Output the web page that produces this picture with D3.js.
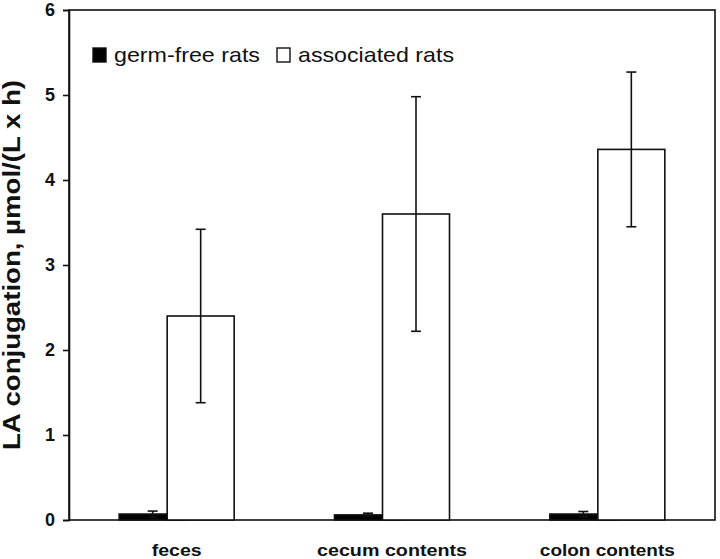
<!DOCTYPE html>
<html>
<head>
<meta charset="utf-8">
<script src="https://cdn.jsdelivr.net/npm/d3@7"></script>
<style>
  body { margin: 0; background: #fff; }
  text { font-family: "Liberation Sans", Arial, sans-serif; }
</style>
</head>
<body>
<svg id="chart"></svg>
<script>
// data
const categories = ["feces", "cecum contents", "colon contents"];
const series = ["germ-free rats", "associated rats"];
const germFree = [0.07, 0.06, 0.07];
const germFreeErr = [0.035, 0.02, 0.03];
const associated = [2.40, 3.60, 4.36];
const associatedErr = [1.02, 1.38, 0.91];
const yTicks = [0, 1, 2, 3, 4, 5, 6];

const width = 720;
const height = 559;
const margin = {top: 10, right: 5, bottom: 39, left: 69};

const svg = d3.select("#chart")
    .attr("width", width)
    .attr("height", height);

const x = d3.scaleBand()
    .domain(categories)
    .range([margin.left, width - margin.right]);

// bars in a group overlap a bit, like the excel original
const xs = d3.scalePoint()
    .domain(series)
    .range([-24, 24]);
const barW = 67;

const y = d3.scaleLinear()
    .domain([0, 6])
    .range([height - margin.bottom, margin.top]);

const rows = categories.map((c, i) => [
    {cat: c, s: series[0], v: germFree[i], e: germFreeErr[i], fill: "#000"},
    {cat: c, s: series[1], v: associated[i], e: associatedErr[i], fill: "#fff"}
]).flat();

// frame
svg.append("rect")
    .attr("x", margin.left)
    .attr("y", margin.top)
    .attr("width", width - margin.right - margin.left)
    .attr("height", height - margin.bottom - margin.top)
    .attr("fill", "none")
    .attr("stroke", "#111")
    .attr("stroke-width", 1.6);

const bars = svg.append("g");
bars.selectAll("rect")
    .data(rows)
    .join("rect")
    .attr("x", d => x(d.cat) + x.bandwidth() / 2 + xs(d.s) - barW / 2)
    .attr("y", d => y(d.v))
    .attr("width", barW)
    .attr("height", d => y(0) - y(d.v))
    .attr("fill", d => d.fill)
    .attr("stroke", "#111")
    .attr("stroke-width", 1.6);

// error bars
const err = svg.append("g")
    .attr("stroke", "#111")
    .attr("stroke-width", 1.6);
rows.forEach(d => {
    const cx = x(d.cat) + x.bandwidth() / 2 + xs(d.s);
    err.append("line")
        .attr("x1", cx).attr("x2", cx)
        .attr("y1", y(d.v + d.e)).attr("y2", y(d.v - d.e));
    [d.v + d.e, d.v - d.e].forEach(v => {
        err.append("line")
            .attr("x1", cx - 5).attr("x2", cx + 5)
            .attr("y1", y(v)).attr("y2", y(v));
    });
});

// y axis
svg.append("g")
    .attr("transform", `translate(${margin.left},0)`)
    .call(d3.axisLeft(y).tickValues(yTicks).tickFormat(d3.format("d")).tickSize(6).tickPadding(8))
    .call(g => g.select(".domain").attr("stroke", "#111").attr("stroke-width", 1.6))
    .call(g => g.selectAll(".tick line").attr("stroke", "#111").attr("stroke-width", 1.6))
    .call(g => g.selectAll(".tick text")
        .style("font-family", "'Liberation Sans', Arial, sans-serif")
        .style("font-size", "18px")
        .style("font-weight", "bold")
        .attr("fill", "#111"));

// x axis labels (the scan is a bit wider than the font, so stretch to fit)
const catWidth = {"feces": 50, "cecum contents": 150, "colon contents": 135};
svg.append("g")
    .selectAll("text")
    .data(categories)
    .join("text")
    .attr("x", d => x(d) + x.bandwidth() / 2)
    .attr("y", 556)
    .attr("text-anchor", "middle")
    .attr("textLength", d => catWidth[d])
    .attr("lengthAdjust", "spacingAndGlyphs")
    .style("font-size", "17px")
    .style("font-weight", "bold")
    .attr("fill", "#111")
    .text(d => d);

// y axis title
svg.append("text")
    .attr("transform", "translate(20,265) rotate(-90)")
    .attr("text-anchor", "middle")
    .attr("textLength", 370)
    .attr("lengthAdjust", "spacingAndGlyphs")
    .style("font-size", "23px")
    .style("font-weight", "bold")
    .attr("fill", "#111")
    .text("LA conjugation, µmol/(L x h)");

// legend
const legend = svg.append("g").attr("class", "legend");
const legendX = [93, 277];
const legendW = [146, 156];
series.forEach((s, i) => {
    legend.append("rect")
        .attr("x", legendX[i])
        .attr("y", 48)
        .attr("width", 13)
        .attr("height", 14)
        .attr("fill", i === 0 ? "#000" : "#fff")
        .attr("stroke", "#111")
        .attr("stroke-width", 1.4);
    legend.append("text")
        .attr("x", legendX[i] + 21)
        .attr("y", 62)
        .attr("textLength", legendW[i])
        .attr("lengthAdjust", "spacingAndGlyphs")
        .style("font-size", "21px")
        .attr("fill", "#111")
        .text(s);
});
</script>
</body>
</html>
